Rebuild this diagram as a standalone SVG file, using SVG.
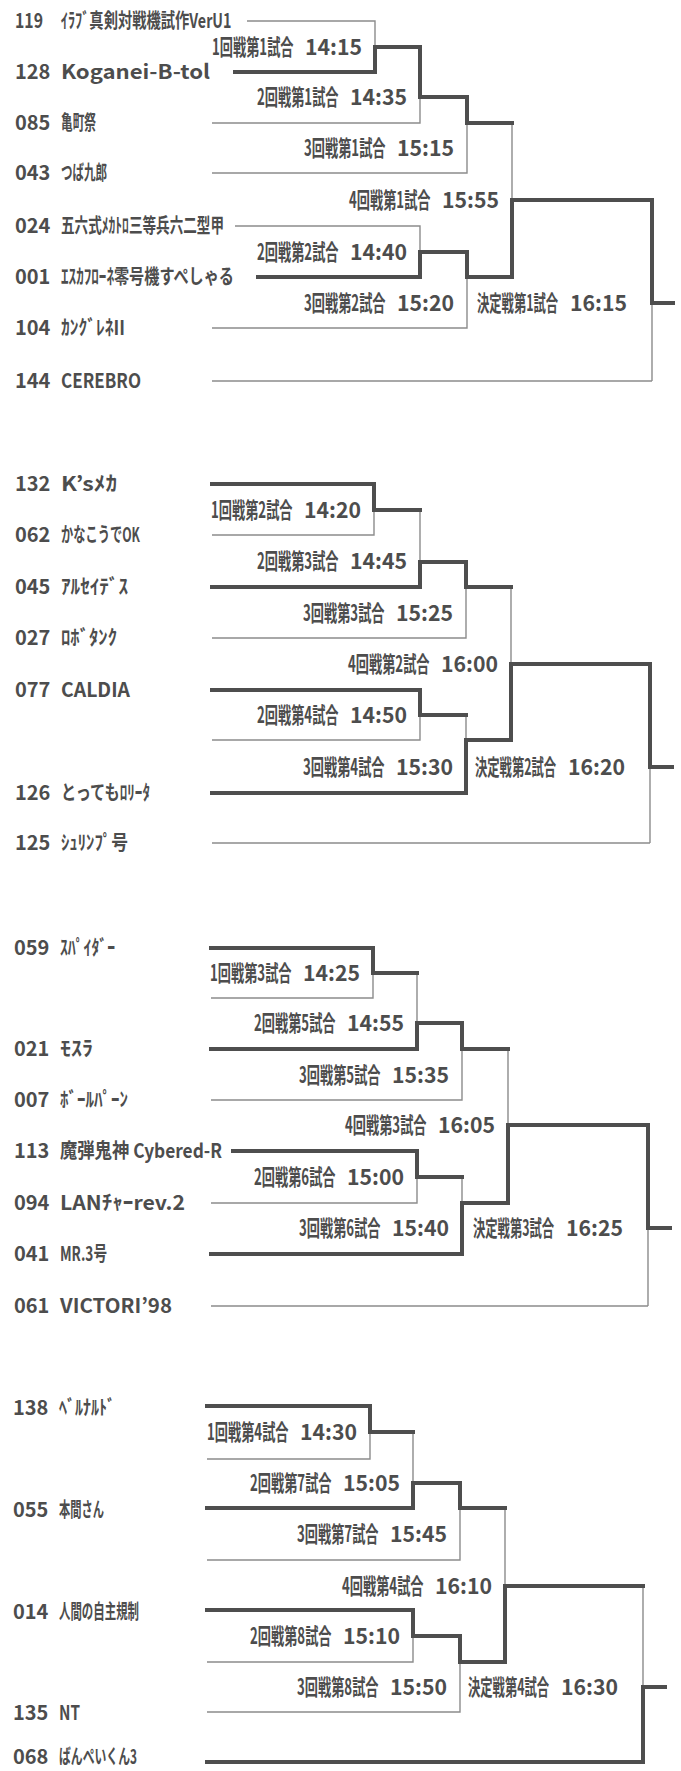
<svg xmlns="http://www.w3.org/2000/svg" width="681" height="1771" viewBox="0 0 681 1771">
<style>
text{font-family:"Noto Sans CJK JP","Noto Sans",sans-serif;fill:#4d4d4d;font-weight:bold}
.nm{font-size:20px}
.lb{font-size:22px}
.thin{fill:none;stroke:#8c8c8c;stroke-width:1.4}
.thick{fill:none;stroke:#4e4e4e;stroke-width:4;stroke-linejoin:miter;stroke-linecap:square}
</style>
<rect width="681" height="1771" fill="#ffffff"/>
<g id="connectors">
<path class="thin" d="M247,21H375V47M212,123H420V97M212,173H467V123M512,123V200M652,303V381M235,226H420V252M212,328H467V277M212,381H652"/>
<path class="thick" d="M235,72H375V47H420V97H467V123H512"/>
<path class="thick" d="M258,277H420V252H467V277H512V200H652V303H673"/>
<path class="thin" d="M212,535H374V510M420,510V562M212,638H466V587M511,587V664M650,767V843M212,740H420V715M466,715V740M212,843H650"/>
<path class="thick" d="M212,484H374V510H420"/>
<path class="thick" d="M212,587H420V562H466V587H511"/>
<path class="thick" d="M212,690H420V715H466"/>
<path class="thick" d="M212,793H466V740H511V664H650V767H672"/>
<path class="thin" d="M211,998H373V973M417,973V1023M211,1100H462V1049M508,1049V1125M648,1228V1306M211,1203H417V1177M462,1177V1203M211,1306H648"/>
<path class="thick" d="M211,948H373V973H417"/>
<path class="thick" d="M211,1049H417V1023H462V1049H508"/>
<path class="thick" d="M233,1151H417V1177H462"/>
<path class="thick" d="M211,1254H462V1203H508V1125H648V1228H670"/>
<path class="thin" d="M207,1459H370V1432M413,1432V1483M207,1560H460V1508M505,1508V1586M643,1586V1687M207,1662H413V1636M207,1712H460V1662"/>
<path class="thick" d="M207,1406H370V1432H413"/>
<path class="thick" d="M207,1508H413V1483H460V1508H505"/>
<path class="thick" d="M207,1610H413V1636H460V1662H505V1586H643"/>
<path class="thick" d="M207,1762H643V1687H665"/>
</g>
<g id="e119"><text class="nm" transform="translate(15,28) scale(0.79,1)"><tspan x="0">119</tspan><tspan x="58" textLength="216" lengthAdjust="spacingAndGlyphs">ｲﾗﾌﾞ真剣対戦機試作VerU1</tspan></text></g>
<g id="e128"><text class="nm" y="79"><tspan x="15">128</tspan><tspan x="61" textLength="149" lengthAdjust="spacingAndGlyphs">Koganei-B-tol</tspan></text></g>
<g id="e085"><text class="nm" y="130"><tspan x="15">085</tspan><tspan x="61" textLength="35" lengthAdjust="spacingAndGlyphs">亀町祭</tspan></text></g>
<g id="e043"><text class="nm" y="180"><tspan x="15">043</tspan><tspan x="61" textLength="46" lengthAdjust="spacingAndGlyphs">つば九郎</tspan></text></g>
<g id="e024"><text class="nm" y="233"><tspan x="15">024</tspan><tspan x="61" textLength="163" lengthAdjust="spacingAndGlyphs">五六式ﾒｶﾄﾛ三等兵六二型甲</tspan></text></g>
<g id="e001"><text class="nm" y="284"><tspan x="15">001</tspan><tspan x="61" textLength="173" lengthAdjust="spacingAndGlyphs">ｴｽｶﾌﾛｰﾈ零号機すぺしゃる</tspan></text></g>
<g id="e104"><text class="nm" y="335"><tspan x="15">104</tspan><tspan x="61" textLength="64" lengthAdjust="spacingAndGlyphs">ｶﾝｸﾞﾚﾈII</tspan></text></g>
<g id="e144"><text class="nm" y="388"><tspan x="15">144</tspan><tspan x="61" textLength="80" lengthAdjust="spacingAndGlyphs">CEREBRO</tspan></text></g>
<g id="e132"><text class="nm" y="491"><tspan x="15">132</tspan><tspan x="61" textLength="56" lengthAdjust="spacingAndGlyphs">K’sﾒｶ</tspan></text></g>
<g id="e062"><text class="nm" y="542"><tspan x="15">062</tspan><tspan x="61" textLength="79" lengthAdjust="spacingAndGlyphs">かなこうでOK</tspan></text></g>
<g id="e045"><text class="nm" y="594"><tspan x="15">045</tspan><tspan x="61" textLength="67" lengthAdjust="spacingAndGlyphs">ｱﾙｾｲﾃﾞｽ</tspan></text></g>
<g id="e027"><text class="nm" y="645"><tspan x="15">027</tspan><tspan x="61" textLength="56" lengthAdjust="spacingAndGlyphs">ﾛﾎﾞﾀﾝｸ</tspan></text></g>
<g id="e077"><text class="nm" y="697"><tspan x="15">077</tspan><tspan x="61" textLength="69" lengthAdjust="spacingAndGlyphs">CALDIA</tspan></text></g>
<g id="e126"><text class="nm" y="800"><tspan x="15">126</tspan><tspan x="61" textLength="89" lengthAdjust="spacingAndGlyphs">とってもﾛﾘｰﾀ</tspan></text></g>
<g id="e125"><text class="nm" y="850"><tspan x="15">125</tspan><tspan x="61" textLength="67" lengthAdjust="spacingAndGlyphs">ｼｭﾘﾝﾌﾟ号</tspan></text></g>
<g id="e059"><text class="nm" y="955"><tspan x="14">059</tspan><tspan x="60" textLength="55" lengthAdjust="spacingAndGlyphs">ｽﾊﾟｲﾀﾞｰ</tspan></text></g>
<g id="e021"><text class="nm" y="1056"><tspan x="14">021</tspan><tspan x="60" textLength="33" lengthAdjust="spacingAndGlyphs">ﾓｽﾗ</tspan></text></g>
<g id="e007"><text class="nm" y="1107"><tspan x="14">007</tspan><tspan x="60" textLength="68" lengthAdjust="spacingAndGlyphs">ﾎﾞｰﾙﾊﾟｰﾝ</tspan></text></g>
<g id="e113"><text class="nm" y="1158"><tspan x="14">113</tspan><tspan x="60" textLength="162" lengthAdjust="spacingAndGlyphs">魔弾鬼神 Cybered-R</tspan></text></g>
<g id="e094"><text class="nm" y="1210"><tspan x="14">094</tspan><tspan x="60" textLength="125" lengthAdjust="spacingAndGlyphs">LANﾁｬｰrev.2</tspan></text></g>
<g id="e041"><text class="nm" y="1261"><tspan x="14">041</tspan><tspan x="60" textLength="47" lengthAdjust="spacingAndGlyphs">MR.3号</tspan></text></g>
<g id="e061"><text class="nm" y="1313"><tspan x="14">061</tspan><tspan x="60" textLength="112" lengthAdjust="spacingAndGlyphs">VICTORI’98</tspan></text></g>
<g id="e138"><text class="nm" y="1415"><tspan x="13">138</tspan><tspan x="59" textLength="56" lengthAdjust="spacingAndGlyphs">ﾍﾞﾙﾅﾙﾄﾞ</tspan></text></g>
<g id="e055"><text class="nm" y="1517"><tspan x="13">055</tspan><tspan x="59" textLength="45" lengthAdjust="spacingAndGlyphs">本間さん</tspan></text></g>
<g id="e014"><text class="nm" y="1619"><tspan x="13">014</tspan><tspan x="59" textLength="80" lengthAdjust="spacingAndGlyphs">人間の自主規制</tspan></text></g>
<g id="e135"><text class="nm" y="1720"><tspan x="13">135</tspan><tspan x="59" textLength="21" lengthAdjust="spacingAndGlyphs">NT</tspan></text></g>
<g id="e068"><text class="nm" y="1764"><tspan x="13">068</tspan><tspan x="59" textLength="78" lengthAdjust="spacingAndGlyphs">ばんぺいくん3</tspan></text></g>
<g id="m1-1"><text class="lb" transform="translate(212,55) scale(0.6,1)">1回戦第1試合</text><text class="lb" x="305" y="55" textLength="57" lengthAdjust="spacingAndGlyphs">14:15</text></g>
<g id="m2-1"><text class="lb" transform="translate(257,105) scale(0.6,1)">2回戦第1試合</text><text class="lb" x="350" y="105" textLength="57" lengthAdjust="spacingAndGlyphs">14:35</text></g>
<g id="m3-1"><text class="lb" transform="translate(304,156) scale(0.6,1)">3回戦第1試合</text><text class="lb" x="397" y="156" textLength="57" lengthAdjust="spacingAndGlyphs">15:15</text></g>
<g id="m4-1"><text class="lb" transform="translate(349,208) scale(0.6,1)">4回戦第1試合</text><text class="lb" x="442" y="208" textLength="57" lengthAdjust="spacingAndGlyphs">15:55</text></g>
<g id="m2-2"><text class="lb" transform="translate(257,260) scale(0.6,1)">2回戦第2試合</text><text class="lb" x="350" y="260" textLength="57" lengthAdjust="spacingAndGlyphs">14:40</text></g>
<g id="m3-2"><text class="lb" transform="translate(304,311) scale(0.6,1)">3回戦第2試合</text><text class="lb" x="397" y="311" textLength="57" lengthAdjust="spacingAndGlyphs">15:20</text></g>
<g id="mf-1"><text class="lb" transform="translate(477,311) scale(0.56,1)">決定戦第1試合</text><text class="lb" x="570" y="311" textLength="57" lengthAdjust="spacingAndGlyphs">16:15</text></g>
<g id="m1-2"><text class="lb" transform="translate(211,518) scale(0.6,1)">1回戦第2試合</text><text class="lb" x="304" y="518" textLength="57" lengthAdjust="spacingAndGlyphs">14:20</text></g>
<g id="m2-3"><text class="lb" transform="translate(257,569) scale(0.6,1)">2回戦第3試合</text><text class="lb" x="350" y="569" textLength="57" lengthAdjust="spacingAndGlyphs">14:45</text></g>
<g id="m3-3"><text class="lb" transform="translate(303,621) scale(0.6,1)">3回戦第3試合</text><text class="lb" x="396" y="621" textLength="57" lengthAdjust="spacingAndGlyphs">15:25</text></g>
<g id="m4-2"><text class="lb" transform="translate(348,672) scale(0.6,1)">4回戦第2試合</text><text class="lb" x="441" y="672" textLength="57" lengthAdjust="spacingAndGlyphs">16:00</text></g>
<g id="m2-4"><text class="lb" transform="translate(257,723) scale(0.6,1)">2回戦第4試合</text><text class="lb" x="350" y="723" textLength="57" lengthAdjust="spacingAndGlyphs">14:50</text></g>
<g id="m3-4"><text class="lb" transform="translate(303,775) scale(0.6,1)">3回戦第4試合</text><text class="lb" x="396" y="775" textLength="57" lengthAdjust="spacingAndGlyphs">15:30</text></g>
<g id="mf-2"><text class="lb" transform="translate(475,775) scale(0.56,1)">決定戦第2試合</text><text class="lb" x="568" y="775" textLength="57" lengthAdjust="spacingAndGlyphs">16:20</text></g>
<g id="m1-3"><text class="lb" transform="translate(210,981) scale(0.6,1)">1回戦第3試合</text><text class="lb" x="303" y="981" textLength="57" lengthAdjust="spacingAndGlyphs">14:25</text></g>
<g id="m2-5"><text class="lb" transform="translate(254,1031) scale(0.6,1)">2回戦第5試合</text><text class="lb" x="347" y="1031" textLength="57" lengthAdjust="spacingAndGlyphs">14:55</text></g>
<g id="m3-5"><text class="lb" transform="translate(299,1083) scale(0.6,1)">3回戦第5試合</text><text class="lb" x="392" y="1083" textLength="57" lengthAdjust="spacingAndGlyphs">15:35</text></g>
<g id="m4-3"><text class="lb" transform="translate(345,1133) scale(0.6,1)">4回戦第3試合</text><text class="lb" x="438" y="1133" textLength="57" lengthAdjust="spacingAndGlyphs">16:05</text></g>
<g id="m2-6"><text class="lb" transform="translate(254,1185) scale(0.6,1)">2回戦第6試合</text><text class="lb" x="347" y="1185" textLength="57" lengthAdjust="spacingAndGlyphs">15:00</text></g>
<g id="m3-6"><text class="lb" transform="translate(299,1236) scale(0.6,1)">3回戦第6試合</text><text class="lb" x="392" y="1236" textLength="57" lengthAdjust="spacingAndGlyphs">15:40</text></g>
<g id="mf-3"><text class="lb" transform="translate(473,1236) scale(0.56,1)">決定戦第3試合</text><text class="lb" x="566" y="1236" textLength="57" lengthAdjust="spacingAndGlyphs">16:25</text></g>
<g id="m1-4"><text class="lb" transform="translate(207,1440) scale(0.6,1)">1回戦第4試合</text><text class="lb" x="300" y="1440" textLength="57" lengthAdjust="spacingAndGlyphs">14:30</text></g>
<g id="m2-7"><text class="lb" transform="translate(250,1491) scale(0.6,1)">2回戦第7試合</text><text class="lb" x="343" y="1491" textLength="57" lengthAdjust="spacingAndGlyphs">15:05</text></g>
<g id="m3-7"><text class="lb" transform="translate(297,1542) scale(0.6,1)">3回戦第7試合</text><text class="lb" x="390" y="1542" textLength="57" lengthAdjust="spacingAndGlyphs">15:45</text></g>
<g id="m4-4"><text class="lb" transform="translate(342,1594) scale(0.6,1)">4回戦第4試合</text><text class="lb" x="435" y="1594" textLength="57" lengthAdjust="spacingAndGlyphs">16:10</text></g>
<g id="m2-8"><text class="lb" transform="translate(250,1644) scale(0.6,1)">2回戦第8試合</text><text class="lb" x="343" y="1644" textLength="57" lengthAdjust="spacingAndGlyphs">15:10</text></g>
<g id="m3-8"><text class="lb" transform="translate(297,1695) scale(0.6,1)">3回戦第8試合</text><text class="lb" x="390" y="1695" textLength="57" lengthAdjust="spacingAndGlyphs">15:50</text></g>
<g id="mf-4"><text class="lb" transform="translate(468,1695) scale(0.56,1)">決定戦第4試合</text><text class="lb" x="561" y="1695" textLength="57" lengthAdjust="spacingAndGlyphs">16:30</text></g>
</svg>
